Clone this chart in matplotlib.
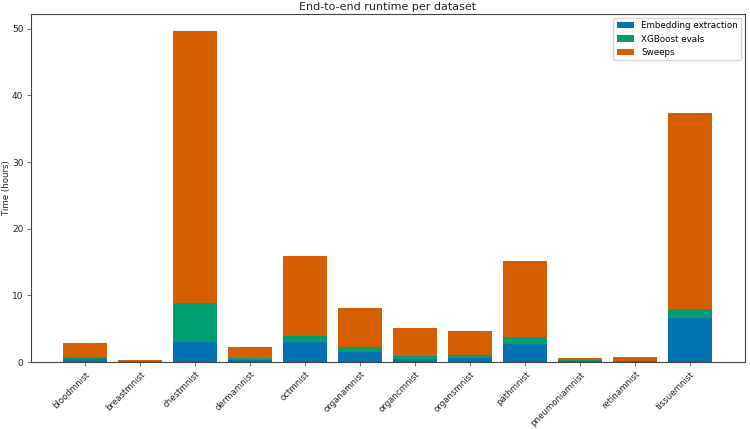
import matplotlib
matplotlib.use("Agg")
import matplotlib.pyplot as plt
import numpy as np

datasets = ["bloodmnist", "breastmnist", "chestmnist", "dermamnist", "octmnist",
            "organamnist", "organcmnist", "organsmnist", "pathmnist",
            "pneumoniamnist", "retinamnist", "tissuemnist"]
embedding = [0.4, 0.08, 3.0, 0.25, 3.05, 1.5, 0.5, 0.65, 2.75, 0.15, 0.1, 6.6]
xgboost = [0.35, 0.07, 5.8, 0.35, 0.85, 0.7, 0.45, 0.4, 0.95, 0.2, 0.1, 1.35]
sweeps = [2.1, 0.2, 40.9, 1.6, 12.0, 5.9, 4.1, 3.55, 11.5, 0.25, 0.5, 29.35]

c_emb = "#0173b2"
c_xgb = "#029e73"
c_swp = "#d55e00"

plt.rcParams['font.family'] = ['DejaVu Sans']
fig, ax = plt.subplots(figsize=(7.5, 4.29), dpi=100)
x = np.arange(len(datasets))
emb = np.array(embedding)
xgb = np.array(xgboost)
swp = np.array(sweeps)
ax.bar(x, emb, width=0.8, color=c_emb, label="Embedding extraction")
ax.bar(x, xgb, width=0.8, bottom=emb, color=c_xgb, label="XGBoost evals")
ax.bar(x, swp, width=0.8, bottom=emb + xgb, color=c_swp, label="Sweeps")

ax.set_xticks(x)
ax.set_xticklabels(datasets, rotation=45, ha="right", rotation_mode="anchor",
                   fontsize=6.2, color="#222222")
ax.tick_params(axis="y", labelsize=6.5, labelcolor="#222222")
ax.tick_params(length=3, width=0.6, color="#555555", pad=2.5)
ax.set_ylabel("Time (hours)", fontsize=6.2, color="#222222")
ax.yaxis.set_label_coords(-0.028, 0.5)
ax.set_title("End-to-end runtime per dataset", fontsize=8, pad=3, color="#222222")
ax.legend(loc="upper right", fontsize=6.3, handlelength=2.0, borderaxespad=0.4)
for s in ax.spines.values():
    s.set_color("#444444")

fig.subplots_adjust(left=0.0413, right=0.993, top=0.967, bottom=0.156)
fig.savefig("out.png", dpi=100)
